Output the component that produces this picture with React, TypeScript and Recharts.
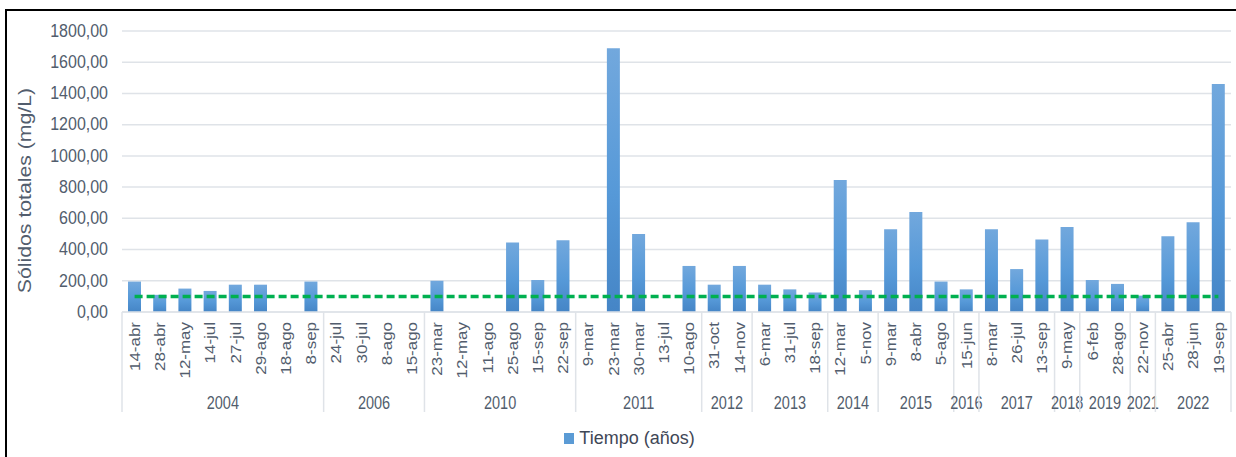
import React from 'react';
import {
    ComposedChart, Bar, Line, XAxis, YAxis, CartesianGrid, Legend
} from 'recharts';

// fechas de muestreo (eje X, nivel 1)
const FECHAS = [
    '14-abr', '28-abr', '12-may', '14-jul', '27-jul', '29-ago', '18-ago', '8-sep',
    '24-jul', '30-jul', '8-ago', '15-ago',
    '23-mar', '12-may', '11-ago', '25-ago', '15-sep', '22-sep',
    '9-mar', '23-mar', '30-mar', '13-jul', '10-ago',
    '31-oct', '14-nov',
    '6-mar', '31-jul', '18-sep',
    '12-mar', '5-nov',
    '9-mar', '8-abr', '5-ago',
    '15-jun',
    '8-mar', '26-jul', '13-sep',
    '9-may',
    '6-feb', '28-ago',
    '22-nov',
    '25-abr', '28-jun', '19-sep',
];

// años (eje X, nivel 2) y cuántas fechas tiene cada uno
const ANIOS = ['2004', '2006', '2010', '2011', '2012', '2013', '2014', '2015', '2016', '2017', '2018', '2019', '2021', '2022'];
const FECHAS_POR_ANIO = [8, 4, 6, 5, 2, 3, 2, 3, 1, 3, 1, 2, 1, 3];

// sólidos totales (mg/L)
const SOLIDOS: (number | null)[] = [
    195, 110, 150, 135, 175, 175, null, 195,
    null, null, null, null,
    200, null, null, 445, 205, 460,
    null, 1690, 500, null, 295,
    175, 295,
    175, 145, 125,
    845, 140,
    530, 640, 195,
    145,
    530, 275, 465,
    545,
    205, 180,
    105,
    485, 575, 1460,
];

const LIMITE = 100;
const Y_TICKS = [0, 200, 400, 600, 800, 1000, 1200, 1400, 1600, 1800];

const CHART_W = 1236;
const CHART_H = 457;
const MARGIN = { top: 31, right: 5, left: 10, bottom: 4 };
const Y_AXIS_W = 112;
const STEP = (CHART_W - MARGIN.left - MARGIN.right - Y_AXIS_W) / FECHAS.length;

const TEXT = '#525d6d';
const FONT = '"Liberation Sans", Arial, sans-serif';

// índice de inicio de cada año
const inicioGrupo: Record<number, number> = {};
{
    let s = 0;
    FECHAS_POR_ANIO.forEach((n, g) => { inicioGrupo[s] = g; s += n; });
}

const data = FECHAS.map((f, i) => ({
    key: `${i}-${f}`,
    fecha: f,
    solidos: SOLIDOS[i],
    limite: LIMITE,
}));

const DateTick = (props: any) => {
    const { x, y, index } = props;
    const g = inicioGrupo[index];
    const last = index === FECHAS.length - 1;
    return (
        <g>
            <text
                transform={`translate(${x},${y + 10}) rotate(-90) scale(1.13,1)`}
                textAnchor="end"
                dominantBaseline="central"
                fontSize={15}
                fontFamily={FONT}
                fill={TEXT}
            >
                {FECHAS[index]}
            </text>
            {g !== undefined && (
                <>
                    <line x1={x - STEP / 2} x2={x - STEP / 2} y1={y} y2={y + 100} stroke="#dfe3e8" strokeWidth={1.5} />
                    <text
                        transform={`translate(${x + (FECHAS_POR_ANIO[g] - 1) * STEP / 2},${y + 90}) scale(1,1.25)`}
                        textAnchor="middle"
                        dominantBaseline="central"
                        fontSize={14.5}
                        fontFamily={FONT}
                        fill={TEXT}
                    >
                        {ANIOS[g]}
                    </text>
                </>
            )}
            {last && (
                <line x1={x + STEP / 2} x2={x + STEP / 2} y1={y} y2={y + 100} stroke="#dfe3e8" strokeWidth={1.5} />
            )}
        </g>
    );
};

const ValueTick = (props: any) => {
    const { x, y, payload } = props;
    return (
        <text
            transform={`translate(${x},${y}) scale(1,1.12)`}
            textAnchor="end"
            dominantBaseline="central"
            fontSize={16}
            fontFamily={FONT}
            fill={TEXT}
        >
            {Number(payload.value).toFixed(2).replace('.', ',')}
        </text>
    );
};

const YLabel = (props: any) => {
    const { viewBox } = props;
    const cx = viewBox.x + 15;
    const cy = viewBox.y + viewBox.height / 2 + 19;
    return (
        <text
            transform={`translate(${cx},${cy}) rotate(-90) scale(1.18,1)`}
            textAnchor="middle"
            dominantBaseline="central"
            fontSize={18}
            fontFamily={FONT}
            fill={TEXT}
        >
            Sólidos totales (mg/L)
        </text>
    );
};

const LegendContent = () => (
    <div style={{ display: 'flex', justifyContent: 'center', alignItems: 'center', height: 30, paddingLeft: 18, fontFamily: FONT }}>
        <div style={{ width: 10, height: 11, background: '#5b9bd5', marginRight: 5 }} />
        <span style={{ fontSize: 18, color: '#3f4756' }}>Tiempo (años)</span>
    </div>
);

export default function App() {
    return (
        <div style={{ position: 'absolute', left: 0, top: 0, width: CHART_W, height: CHART_H, background: '#fff', overflow: 'hidden' }}>
            <div style={{ position: 'absolute', left: 5, top: 9, width: 1250, height: 470, border: '2px solid #000' }} />
            <div style={{ position: 'absolute', left: 0, top: 0 }}>
                <ComposedChart width={CHART_W} height={CHART_H} data={data} margin={MARGIN}>
                    <defs>
                        <linearGradient id="gradBar" x1="0" y1="0" x2="0" y2="1">
                            <stop offset="0%" stopColor="#72a8dd" />
                            <stop offset="55%" stopColor="#5699d8" />
                            <stop offset="100%" stopColor="#4585c6" />
                        </linearGradient>
                    </defs>
                    <CartesianGrid vertical={false} stroke="#dfe3e8" strokeWidth={1.5} />
                    <XAxis
                        dataKey="key"
                        interval={0}
                        height={111}
                        tickLine={false}
                        tickSize={0}
                        tickMargin={0}
                        axisLine={{ stroke: '#dfe3e8', strokeWidth: 1.5 }}
                        tick={DateTick}
                    />
                    <YAxis
                        width={Y_AXIS_W}
                        domain={[0, 1800]}
                        ticks={Y_TICKS}
                        interval={0}
                        axisLine={false}
                        tickLine={false}
                        tickSize={0}
                        tickMargin={14}
                        tick={ValueTick}
                        label={<YLabel />}
                    />
                    <Legend verticalAlign="bottom" content={<LegendContent />} />
                    <Bar dataKey="solidos" name="Tiempo (años)" fill="url(#gradBar)" barSize={13} isAnimationActive={false} />
                    <Line
                        dataKey="limite"
                        stroke="#00b050"
                        strokeWidth={3.5}
                        strokeDasharray="8 4"
                        dot={false}
                        activeDot={false}
                        legendType="none"
                        isAnimationActive={false}
                    />
                </ComposedChart>
            </div>
        </div>
    );
}
